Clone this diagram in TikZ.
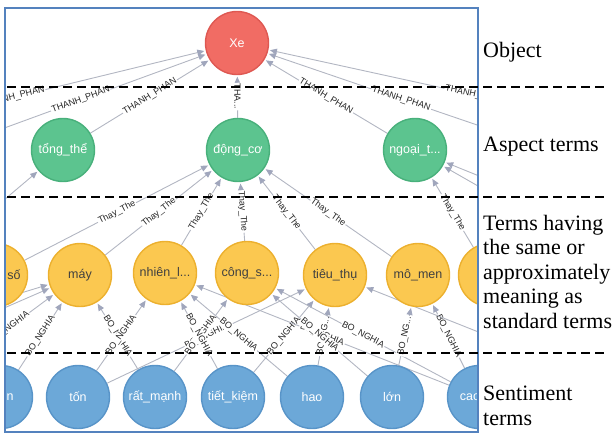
\documentclass[tikz,border=0pt]{standalone}
\usepackage{fontspec}
\setmainfont{Liberation Serif}
\newfontfamily\gfont{Liberation Sans}
\usetikzlibrary{arrows.meta}
\pgfdeclarelayer{bg}
\pgfsetlayers{bg,main}
\definecolor{xred}{RGB}{241,108,100}
\definecolor{xredb}{RGB}{222,88,82}
\definecolor{xgreen}{RGB}{92,196,143}
\definecolor{xgreenb}{RGB}{72,176,123}
\definecolor{xyel}{RGB}{251,200,80}
\definecolor{xyelb}{RGB}{236,176,46}
\definecolor{xblue}{RGB}{108,168,216}
\definecolor{xblueb}{RGB}{88,148,200}
\definecolor{edgec}{RGB}{178,182,194}
\definecolor{tipc}{RGB}{160,166,188}
\definecolor{framec}{RGB}{84,130,190}
\tikzset{
  gnode/.style={circle, minimum size=63pt, inner sep=0pt, line width=1.4pt,
    font=\gfont\fontsize{12.5}{13}\selectfont, text=white},
  rednode/.style={gnode, fill=xred, draw=xredb},
  greennode/.style={gnode, fill=xgreen, draw=xgreenb},
  yelnode/.style={gnode, fill=xyel, draw=xyelb, text=black!75},
  bluenode/.style={gnode, fill=xblue, draw=xblueb},
  ghost/.style={circle, minimum size=63pt, inner sep=0pt},
  ntext/.style={inner sep=0pt, font=\gfont\fontsize{12.5}{13}\selectfont},
  rel/.style={draw=edgec, line width=0.9pt, -{Triangle[length=7pt,width=6pt,color=tipc]}, shorten >=1.5pt},
  elab/.style={sloped, midway, fill=white, inner sep=1pt, font=\gfont\fontsize{9}{10}\selectfont, text=black!85},
  sepline/.style={black, line width=2.6pt, dash pattern=on 9pt off 5pt},
  side/.style={anchor=base west, inner sep=0pt, font=\fontsize{22}{25}\selectfont},
}
\begin{document}
\begin{tikzpicture}[x=1pt,y=-1pt]
\useasboundingbox (0,0) rectangle (616,434);
\begin{scope}
\clip (5,8) rectangle (478,432);
% object
\node[rednode] (xe) at (237,43) {Xe};
% aspect terms
\node[greennode] (tong) at (63,150) {tổng\_thể};
\node[greennode] (dong) at (238,150) {động\_cơ};
\node[greennode] (ngoai) at (415,150) {ngoại\_t...};
\node[ghost] (offA) at (-207,151) {};
\node[ghost] (offB) at (-75,157) {};
\node[ghost] (offC) at (565,155) {};
\node[ghost] (offD) at (713,147) {};
% same meaning terms
\node[yelnode] (so) at (-4,275) {};
\node[ntext, text=black!75] (tso) at (14,275) {số};
\node[yelnode] (may) at (80,275) {máy};
\node[yelnode] (nhien) at (165,273) {nhiên\_l...};
\node[yelnode] (cong) at (247,273) {công\_s...};
\node[yelnode] (tieu) at (335,275) {tiêu\_thụ};
\node[yelnode] (momen) at (418,275) {mô\_men};
\node[yelnode] (yr) at (490,275) {};
\node[ghost] (offE) at (-120,305) {};
\node[ghost] (offF) at (600,225) {};
\node[ghost] (offG) at (590,250) {};
% sentiment terms
\node[bluenode] (n) at (1,397) {};
\node[ntext, text=white] (tn) at (10,397) {n};
\node[bluenode] (ton) at (78,397) {tốn};
\node[bluenode] (ratmanh) at (155,397) {rất\_mạnh};
\node[bluenode] (tietkiem) at (233,397) {tiết\_kiệm};
\node[bluenode] (hao) at (312,397) {hao};
\node[bluenode] (lon) at (392,397) {lớn};
\node[bluenode] (cao) at (479,397) {};
\node[ntext, text=white] (tcao) at (470,397) {cao};
\node[ghost] (offI) at (-60,379) {};
\node[ghost] (offJ) at (700,420) {};
\node[ghost] (offK) at (-150,345) {};
\node[ghost] (offL) at (-150,375) {};
\end{scope}
\begin{pgfonlayer}{bg}
\begin{scope}
\clip (5,8) rectangle (478,432);
% THANH_PHAN
\draw[rel] (offA) -- node[elab]{THANH\_PHAN} (xe);
\draw[rel] (offB) -- node[elab]{THANH\_PHAN} (xe);
\draw[rel] (tong) -- node[elab]{THANH\_PHAN} (xe);
\draw[rel] (dong) -- node[elab]{THA...} (xe);
\draw[rel] (ngoai) -- node[elab]{THANH\_PHAN} (xe);
\draw[rel] (offC) -- node[elab]{THANH\_PHAN} (xe);
\draw[rel] (offD) -- node[elab]{THANH\_PHAN} (xe);
% Thay_The
\draw[rel] (offE) -- node[elab]{Thay\_The} (tong);
\draw[rel] (so) -- node[elab]{Thay\_The} (dong);
\draw[rel] (may) -- node[elab]{Thay\_The} (dong);
\draw[rel] (nhien) -- node[elab]{Thay\_The} (dong);
\draw[rel] (cong) -- node[elab]{Thay\_The} (dong);
\draw[rel] (tieu) -- node[elab]{Thay\_The} (dong);
\draw[rel] (momen) -- node[elab]{Thay\_The} (dong);
\draw[rel] (yr) -- node[elab]{Thay\_The} (ngoai);
\draw[rel] (offF) -- node[elab]{Thay\_The} (ngoai);
\draw[rel] (offG) -- node[elab]{Thay\_The} (ngoai);
% BO_NGHIA
\draw[rel] (offK) -- node[elab]{BO\_NGHIA} (may);
\draw[rel] (offL) -- node[elab]{BO\_NGHIA} (may);
\draw[rel] (offI) -- node[elab]{BO\_NGHIA} (may);
\draw[rel] (n) -- node[elab]{BO\_NGHIA} (may);
\draw[rel] (ratmanh) -- node[elab]{BO\_NGHIA} (may);
\draw[rel] (ton) -- node[elab]{BO\_NGHIA} (nhien);
\draw[rel] (ton) -- node[elab]{BO\_NGHIA} (tieu);
\draw[rel] (ratmanh) -- node[elab]{BO\_NGHIA} (cong);
\draw[rel] (tietkiem) -- node[elab]{BO\_NGHIA} (nhien);
\draw[rel] (tietkiem) -- node[elab]{BO\_NGHIA} (tieu);
\draw[rel] (hao) -- node[elab]{BO\_NGHIA} (nhien);
\draw[rel] (hao) -- node[elab]{BO\_NG...} (tieu);
\draw[rel] (cao) -- node[elab]{BO\_NGHIA} (nhien);
\draw[rel] (lon) -- node[elab]{BO\_NGHIA} (cong);
\draw[rel] (cao) -- node[elab]{BO\_NGHIA} (cong);
\draw[rel] (lon) -- node[elab]{BO\_NG...} (momen);
\draw[rel] (cao) -- node[elab]{BO\_NGHIA} (momen);
\draw[rel] (offJ) -- node[elab]{BO\_NGHIA} (tieu);
\end{scope}
\end{pgfonlayer}
% frame
\draw[framec, line width=2pt] (5,8) rectangle (478,432);
% layer separators
\coordinate (s1a) at (7,87);  \coordinate (s1b) at (606,87);
\coordinate (s2a) at (7,197); \coordinate (s2b) at (606,197);
\coordinate (s3a) at (7,353); \coordinate (s3b) at (606,353);
\draw[sepline] (s1a) -- (s1b);
\draw[sepline] (s2a) -- (s2b);
\draw[sepline] (s3a) -- (s3b);
% layer names
\node[side] (l1) at (483,57) {Object};
\node[side] (l2) at (483,151) {Aspect terms};
\node[side] (l3a) at (483,230) {Terms having};
\node[side] (l3b) at (483,254.5) {the same or};
\node[side] (l3c) at (483,279) {approximately};
\node[side] (l3d) at (483,303.5) {meaning as};
\node[side] (l3e) at (483,328) {standard terms};
\node[side] (l4a) at (483,400) {Sentiment};
\node[side] (l4b) at (483,425) {terms};
\end{tikzpicture}
\end{document}
